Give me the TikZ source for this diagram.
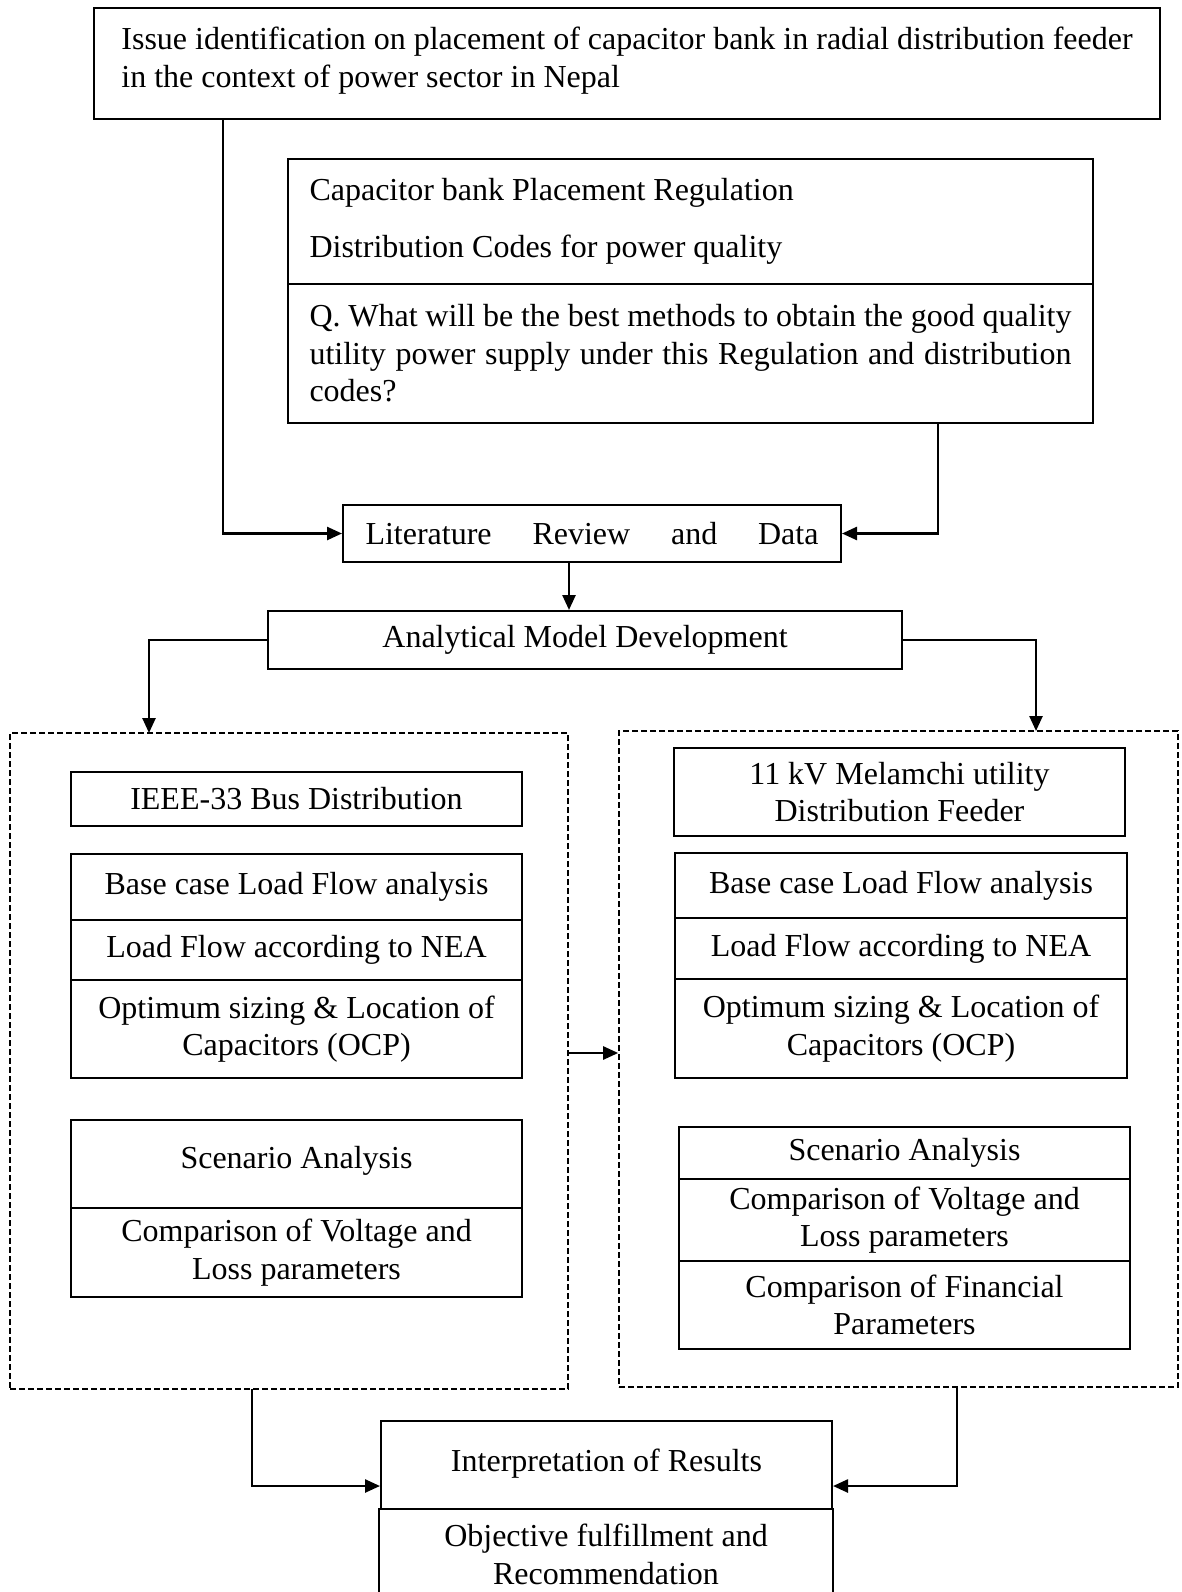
\documentclass[tikz,border=0pt]{standalone}
\usepackage{fontspec}
\setmainfont{Liberation Serif}
\usetikzlibrary{arrows.meta,calc}

\newcommand\flowfont{\fontsize{32}{37.6}\selectfont}

\tikzset{every picture/.style={line width=2pt}}
\tikzset{
  blk/.style={draw, rectangle, inner sep=0pt, align=center, font=\flowfont},
  panel/.style={draw, rectangle, dash pattern=on 6pt off 3pt, line width=1.6pt},
  link/.style={line width=2.5pt, -{Triangle[length=15pt,width=13pt]}},
}

\begin{document}
\begin{tikzpicture}[x=1pt, y=-1pt]
    \useasboundingbox (0,0) rectangle (1181,1592);

    % issue and regulation
    \node[blk, minimum width=1066pt, minimum height=111pt, align=flush left] (issue) at (627,63.5)
        {Issue identification on placement of capacitor bank in radial distribution feeder\\ in the context of power sector in Nepal\rule[-12pt]{0pt}{0pt}};
    \node[blk, minimum width=805pt, minimum height=125pt, text width=762pt, align=flush left] (reg) at (690.5,221.5)
        {Capacitor bank Placement Regulation\\[20pt] Distribution Codes for power quality};
    \node[blk, minimum width=805pt, minimum height=139pt, text width=762pt, align=justify] (quest) at (690.5,353.5)
        {Q. What will be the best methods to obtain the good quality\linebreak utility power supply under this Regulation and distribution\linebreak codes?};

    \node[blk, minimum width=498pt, minimum height=57pt, text width=453pt, align=left] (lit) at (592,533.5)
        {Literature\hfill Review\hfill and\hfill Data};
    \node[blk, minimum width=634pt, minimum height=58pt] (amd) at (585,640) {Analytical Model Development};

    % the two study panels
    \node[panel, minimum width=558pt, minimum height=656pt] (leftp) at (289,1061) {};
    \node[panel, minimum width=559pt, minimum height=656pt] (rightp) at (898.5,1059) {};

    \node[blk, minimum width=451pt, minimum height=54pt] (ieee) at (296.5,799) {IEEE-33 Bus Distribution};
    \node[blk, minimum width=451pt, minimum height=66pt] (lbase) at (296.5,887) {Base case Load Flow analysis};
    \node[blk, minimum width=451pt, minimum height=60pt] (lnea) at (296.5,950) {Load Flow according to NEA};
    \node[blk, minimum width=451pt, minimum height=98pt] (locp) at (296.5,1029) {Optimum sizing \& Location of\\ Capacitors (OCP)};
    \node[blk, minimum width=451pt, minimum height=88pt] (lscen) at (296.5,1164) {Scenario Analysis\rule[-14pt]{0pt}{0pt}};
    \node[blk, minimum width=451pt, minimum height=89pt] (lcomp) at (296.5,1252.5) {Comparison of Voltage and\\ Loss parameters};

    \node[blk, minimum width=451pt, minimum height=88pt] (mel) at (899.5,792) {11 kV Melamchi utility\\ Distribution Feeder};
    \node[blk, minimum width=452pt, minimum height=65pt] (rbase) at (901,885.5) {Base case Load Flow analysis};
    \node[blk, minimum width=452pt, minimum height=61pt] (rnea) at (901,948.5) {Load Flow according to NEA};
    \node[blk, minimum width=452pt, minimum height=99pt] (rocp) at (901,1028.5) {Optimum sizing \& Location of\\ Capacitors (OCP)};
    \node[blk, minimum width=451pt, minimum height=52pt] (rscen) at (904.5,1153) {Scenario Analysis};
    \node[blk, minimum width=451pt, minimum height=82pt] (rcomp) at (904.5,1220) {Comparison of Voltage and\\ Loss parameters};
    \node[blk, minimum width=451pt, minimum height=88pt] (rfin) at (904.5,1305) {Comparison of Financial\\ Parameters};

    % results
    \node[blk, minimum width=451pt, minimum height=88pt] (interp) at (606.5,1465) {Interpretation of Results\rule[-10pt]{0pt}{0pt}};
    \node[blk, minimum width=454pt, minimum height=91pt] (obj) at (606,1554.5) {Objective fulfillment and\\ Recommendation};

    % connectors
    \coordinate (tout) at (223,119);
    \coordinate (rout) at (938,423);
    \coordinate (lin) at (149,733);
    \coordinate (rin) at (1036,731);
    \coordinate (lout) at (252,1389);
    \coordinate (rbot) at (957,1387);

    \draw[link] (tout) |- (lit.west);
    \draw[link] (rout) |- (lit.east);
    \draw[link] ([xshift=-23pt]lit.south) -- ([xshift=-23pt]lit.south |- amd.north);
    \draw[link] (amd.west) -| (lin);
    \draw[link] (amd.east) -| (rin);
    \draw[link] ([yshift=8pt]leftp.east) -- ([yshift=8pt]leftp.east -| rightp.west);
    \draw[link] (lout) |- ([yshift=-21pt]interp.west);
    \draw[link] (rbot) |- ([yshift=-21pt]interp.east);
\end{tikzpicture}
\end{document}
